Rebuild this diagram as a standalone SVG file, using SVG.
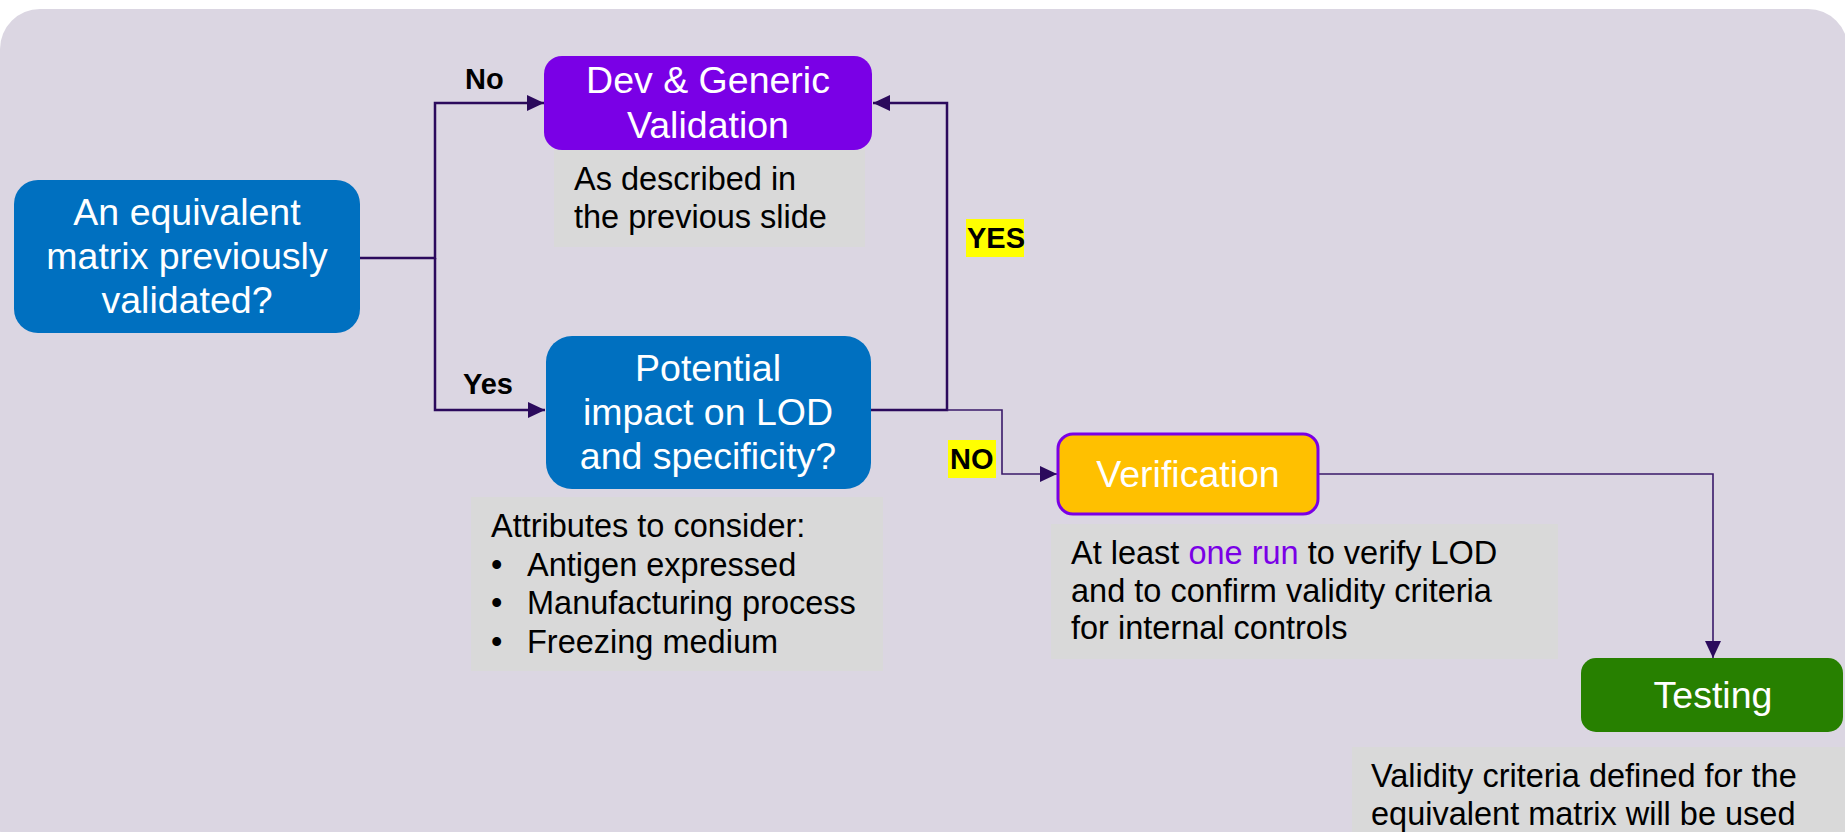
<svg xmlns="http://www.w3.org/2000/svg" width="1845" height="832" viewBox="0 0 1845 832">
  <style>
    .bt { font-family: "Liberation Sans", Arial, sans-serif; font-size: 37.5px; fill: #ffffff; text-anchor: middle; }
    .nt { font-family: "Liberation Sans", Arial, sans-serif; font-size: 32.5px; fill: #000000; }
    .lb { font-family: "Liberation Sans", Arial, sans-serif; font-size: 29px; font-weight: bold; fill: #000000; }
    .note { fill: #D9D9D9; }
    .cn { fill: none; stroke: #2B0A5C; stroke-width: 2.5; }
    .cn2 { fill: none; stroke: #3A1A6A; stroke-width: 1.6; }
  </style>
  <defs>
    <marker id="arr" markerUnits="userSpaceOnUse" markerWidth="18" markerHeight="16" refX="17" refY="8" orient="auto">
      <path d="M0,0 L17,8 L0,16 Z" fill="#2B0A5C"/>
    </marker>
  </defs>
  <rect x="0" y="0" width="1845" height="832" fill="#ffffff"/>
  <rect id="panel" x="0" y="9" width="1848" height="860" rx="40" fill="#DBD6E2"/>

  <g id="connectors">
    <path class="cn" d="M360,258 H435 V103 H544" marker-end="url(#arr)"/>
    <path class="cn" d="M435,258 V410 H545" marker-end="url(#arr)"/>
    <path class="cn" d="M871,410 H947 V103 H873" marker-end="url(#arr)"/>
    <path class="cn2" d="M947,410 H1002 V474 H1057" marker-end="url(#arr)"/>
    <path class="cn2" d="M1318,474 H1713 V658" marker-end="url(#arr)"/>
    <g id="label-no">
      <text class="lb" x="465" y="89">No</text>
    </g>
    <g id="label-yes">
      <text class="lb" x="463" y="394">Yes</text>
    </g>
    <g id="label-YES">
      <rect x="966" y="219" width="58" height="38" fill="#FFFF00"/>
      <text class="lb" x="967" y="248">YES</text>
    </g>
    <g id="label-NO">
      <rect x="948" y="440" width="48" height="38" fill="#FFFF00"/>
      <text class="lb" x="950" y="469">NO</text>
    </g>
  </g>

  <g id="node-equivalent">
    <rect x="14" y="180" width="346" height="153" rx="24" fill="#0070C0"/>
    <text class="bt" x="187" y="225">An equivalent</text>
    <text class="bt" x="187" y="269">matrix previously</text>
    <text class="bt" x="187" y="313">validated?</text>
  </g>

  <g id="node-dev">
    <rect x="544" y="56" width="328" height="94" rx="18" fill="#7A00E6"/>
    <text class="bt" x="708" y="93">Dev &amp; Generic</text>
    <text class="bt" x="708" y="138">Validation</text>
  </g>

  <g id="note-dev">
    <rect class="note" x="554" y="150" width="311" height="97"/>
    <text class="nt" x="574" y="190">As described in</text>
    <text class="nt" x="574" y="228">the previous slide</text>
  </g>

  <g id="node-potential">
    <rect x="546" y="336" width="325" height="153" rx="26" fill="#0070C0"/>
    <text class="bt" x="708" y="381">Potential</text>
    <text class="bt" x="708" y="425">impact on LOD</text>
    <text class="bt" x="708" y="469">and specificity?</text>
  </g>

  <g id="note-attributes">
    <rect class="note" x="471" y="497" width="412" height="174"/>
    <text class="nt" x="491" y="537">Attributes to consider:</text>
    <text class="nt" x="491" y="576">•</text>
    <text class="nt" x="527" y="576">Antigen expressed</text>
    <text class="nt" x="491" y="614">•</text>
    <text class="nt" x="527" y="614">Manufacturing process</text>
    <text class="nt" x="491" y="653">•</text>
    <text class="nt" x="527" y="653">Freezing medium</text>
  </g>

  <g id="node-verification">
    <rect x="1058" y="434" width="260" height="80" rx="15" fill="#FFC000" stroke="#7A00E6" stroke-width="3"/>
    <text class="bt" x="1188" y="487">Verification</text>
  </g>

  <g id="note-verification">
    <rect class="note" x="1051" y="524" width="507" height="135"/>
    <text class="nt" x="1071" y="564">At least <tspan fill="#7A00E6">one run</tspan> to verify LOD</text>
    <text class="nt" x="1071" y="602">and to confirm validity criteria</text>
    <text class="nt" x="1071" y="639">for internal controls</text>
  </g>

  <g id="node-testing">
    <rect x="1581" y="658" width="262" height="74" rx="15" fill="#278000"/>
    <text class="bt" x="1713" y="708">Testing</text>
  </g>

  <g id="note-testing">
    <rect class="note" x="1352" y="747" width="493" height="100"/>
    <text class="nt" x="1371" y="787">Validity criteria defined for the</text>
    <text class="nt" x="1371" y="825">equivalent matrix will be used</text>
  </g>
</svg>
